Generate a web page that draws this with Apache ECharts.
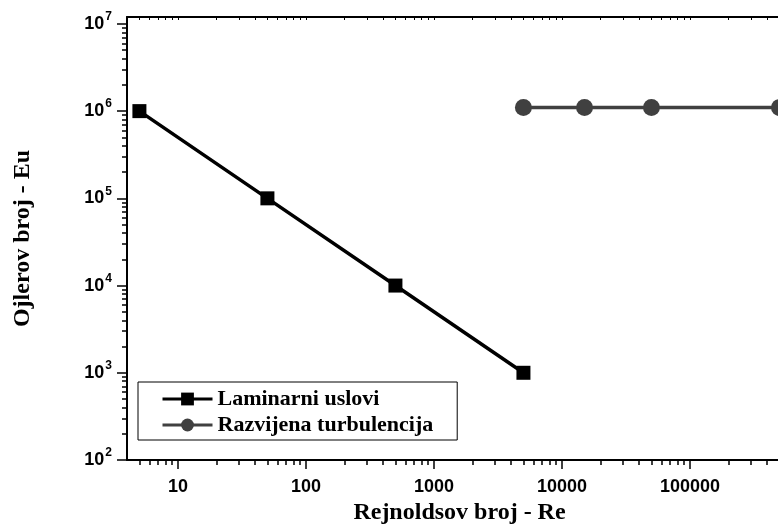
<!DOCTYPE html>
<html><head><meta charset="utf-8">
<script src="https://cdn.jsdelivr.net/npm/echarts@6/dist/echarts.min.js"></script>
<style>html,body{margin:0;padding:0;background:#fff}#c{width:778px;height:524px}</style>
</head><body><div id="c"></div>
<script>
// Data
const laminarRe = [5, 50, 500, 5000];
const laminarEu = [1e6, 1e5, 1e4, 1e3];
const turbRe = [5000, 15000, 50000, 500000];
const turbEu = [1.1e6, 1.1e6, 1.1e6, 1.1e6];
const seriesNames = ['Laminarni uslovi', 'Razvijena turbulencija'];
const xMajorTicks = [10, 100, 1000, 10000, 100000, 1000000];
const yMajorTicks = [100, 1000, 10000, 100000, 1000000, 10000000];
const xTitle = 'Rejnoldsov broj - Re';
const yTitle = 'Ojlerov broj - Eu';

function minorTicks(decades, lo, hi) {
  const out = [];
  decades.forEach(d => { for (let k = 2; k <= 9; k++) { const v = k * d; if (v > lo && v < hi) out.push(v); } });
  return out;
}
const X_MIN = 4, X_MAX = 1e6, Y_MIN = 100, Y_MAX = 1.2e7;
const xMinor = minorTicks([1, 10, 100, 1000, 10000, 100000], X_MIN, X_MAX);
const yMinor = minorTicks([100, 1000, 10000, 100000, 1000000, 10000000], Y_MIN, Y_MAX);

const chart = echarts.init(document.getElementById('c'), null, {renderer: 'canvas'});
const axisLineStyle = {color: '#000', width: 2};
const lbl = {fontFamily: 'Liberation Sans, Arial, sans-serif', fontWeight: 'bold', fontSize: 18, color: '#000'};
const titleFont = {fontFamily: 'Liberation Serif, Times New Roman, serif', fontWeight: 'bold', fontSize: 24, color: '#000'};

function baseX(extra) {
  return Object.assign({type: 'log', logBase: 10, min: X_MIN, max: X_MAX, splitLine: {show: false}, minorTick: {show: false}}, extra);
}
function baseY(extra) {
  return Object.assign({type: 'log', logBase: 10, min: Y_MIN, max: Y_MAX, splitLine: {show: false}, minorTick: {show: false}}, extra);
}

const option = {
  animation: false,
  backgroundColor: '#fff',
  grid: {left: 127, top: 17, bottom: 64, right: -40, containLabel: false, outerBoundsMode: 'none'},
  legend: {
    orient: 'vertical', left: 138, top: 382,
    data: seriesNames,
    itemWidth: 50, itemHeight: 16, itemGap: 4,
    padding: [6, 24, 4, 23],
    borderColor: '#000', borderWidth: 1,
    lineStyle: {width: 3},
    textStyle: {fontFamily: 'Liberation Serif, Times New Roman, serif', fontWeight: 'bold', fontSize: 22, color: '#000'}
  },
  xAxis: [
    baseX({position: 'bottom', name: xTitle, nameLocation: 'middle', nameGap: 38,
      nameTextStyle: Object.assign({padding: [0, 26, 0, 0]}, titleFont),
      axisLine: {show: true, lineStyle: axisLineStyle},
      axisTick: {show: true, inside: false, length: 9, lineStyle: {color: '#000', width: 1.5}, customValues: xMajorTicks},
      axisLabel: Object.assign({show: true, margin: 18, customValues: xMajorTicks, formatter: v => String(Math.round(v))}, lbl)}),
    baseX({position: 'bottom',
      axisLine: {show: false},
      axisTick: {show: true, inside: false, length: 5, lineStyle: {color: '#000', width: 1.5}, customValues: xMinor},
      axisLabel: {show: false}}),
    baseX({position: 'top',
      axisLine: {show: true, lineStyle: axisLineStyle},
      axisTick: {show: true, inside: true, length: 3, lineStyle: {color: '#000', width: 1}, customValues: xMajorTicks.concat(xMinor)},
      axisLabel: {show: false}})
  ],
  yAxis: [
    baseY({position: 'left', name: yTitle, nameLocation: 'middle', nameGap: 92, nameRotate: 90,
      nameTextStyle: titleFont,
      axisLine: {show: true, lineStyle: axisLineStyle},
      axisTick: {show: true, inside: false, length: 10, lineStyle: {color: '#000', width: 1.5}, customValues: yMajorTicks},
      axisLabel: {show: true, margin: 15, customValues: yMajorTicks,
        formatter: v => '{b|10}{s|' + Math.round(Math.log10(v)) + '}',
        rich: {
          b: lbl,
          s: Object.assign({}, lbl, {fontSize: 12, padding: [0, 0, 14, 1]})
        }}}),
    baseY({position: 'left',
      axisLine: {show: false},
      axisTick: {show: true, inside: false, length: 5, lineStyle: {color: '#000', width: 1.5}, customValues: yMinor},
      axisLabel: {show: false}})
  ],
  series: [
    {
      name: seriesNames[0], type: 'line', xAxisIndex: 0, yAxisIndex: 0,
      data: laminarRe.map((x, i) => [x, laminarEu[i]]),
      symbol: 'rect', symbolSize: 14, showAllSymbol: true,
      lineStyle: {color: '#000', width: 3.5}, itemStyle: {color: '#000'},
      clip: false
    },
    {
      name: seriesNames[1], type: 'line', xAxisIndex: 0, yAxisIndex: 0,
      data: turbRe.map((x, i) => [x, turbEu[i]]),
      symbol: 'circle', symbolSize: 17, showAllSymbol: true,
      lineStyle: {color: '#404040', width: 3.5}, itemStyle: {color: '#404040'},
      clip: false
    }
  ]
};
chart.setOption(option);
</script>
</body></html>
